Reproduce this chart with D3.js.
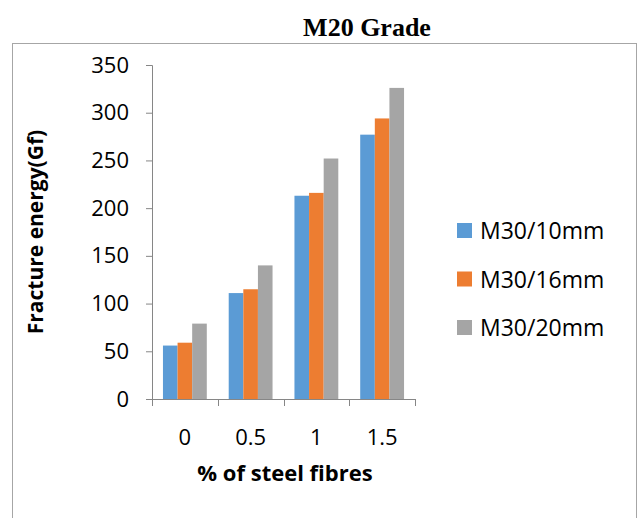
<!DOCTYPE html>
<html>
<head>
<meta charset="utf-8">
<script src="https://cdn.jsdelivr.net/npm/d3@7"></script>
<style>
  html, body { margin: 0; padding: 0; background: #fff; }
  svg { display: block; }
</style>
</head>
<body>
<svg id="chart" width="640" height="518"></svg>
<script>
// Fracture energy (Gf) by steel fibre content, three aggregate sizes
const categories = ["0", "0.5", "1", "1.5"];
const seriesNames = ["M30/10mm", "M30/16mm", "M30/20mm"];
const seriesColors = ["#5b9bd5", "#ed7d31", "#a5a5a5"];
const valuesM30_10 = [56, 111, 213, 277];
const valuesM30_16 = [59, 115, 216, 294];
const valuesM30_20 = [79, 140, 252, 326];
const yTicks = [0, 50, 100, 150, 200, 250, 300, 350];

const seriesValues = [valuesM30_10, valuesM30_16, valuesM30_20];

const svg = d3.select("#chart");

// outer chart frame (bottom edge runs past the page)
svg.append("rect")
  .attr("x", 12.5).attr("y", 43.5)
  .attr("width", 624).attr("height", 520)
  .attr("fill", "#fff")
  .attr("stroke", "#a6a6a6").attr("stroke-width", 1);

// title above the frame
svg.append("text")
  .attr("x", 367).attr("y", 36)
  .attr("text-anchor", "middle")
  .attr("font-family", "'Liberation Serif', 'Times New Roman', serif")
  .attr("font-weight", "bold")
  .attr("font-size", 26)
  .attr("fill", "#000")
  .text("M20 Grade");

const plot = { left: 152, right: 415, top: 65, bottom: 399 };

const x0 = d3.scaleBand()
  .domain(categories)
  .range([plot.left, plot.right])
  .paddingInner(0).paddingOuter(0);

// clustered bars: three bars per group, gap of 1.5 bar widths between groups
const barW = x0.bandwidth() / 4.5;
const groupOffset = barW * 0.75;

const y = d3.scaleLinear()
  .domain([0, 350])
  .range([plot.bottom, plot.top]);

const axisColor = "#868686";

// bars
const groups = svg.append("g").selectAll("g")
  .data(categories)
  .join("g")
  .attr("transform", d => `translate(${x0(d)},0)`);

groups.selectAll("rect")
  .data((d, i) => seriesValues.map((vals, s) => ({ s, v: vals[i] })))
  .join("rect")
  .attr("x", d => groupOffset + d.s * barW)
  .attr("y", d => y(d.v))
  .attr("width", barW)
  .attr("height", d => y(0) - y(d.v))
  .attr("fill", d => seriesColors[d.s]);

// y axis
const yAxis = svg.append("g")
  .attr("transform", `translate(${plot.left},0)`)
  .call(d3.axisLeft(y).tickValues(yTicks).tickSize(6).tickPadding(17).tickFormat(d3.format("d")));
yAxis.select(".domain").attr("stroke", axisColor).attr("d", `M-6,${plot.top + 0.5}H0.5V${plot.bottom}`);
yAxis.selectAll(".tick line").attr("stroke", axisColor);
yAxis.selectAll(".tick text")
  .attr("font-family", "'Open Sans', sans-serif")
  .attr("font-size", 22)
  .attr("fill", "#000");

// x axis with tick marks between categories
const xAxis = svg.append("g")
  .attr("transform", `translate(0,${plot.bottom})`);
xAxis.append("line")
  .attr("x1", plot.left).attr("x2", plot.right)
  .attr("y1", 0.5).attr("y2", 0.5)
  .attr("stroke", axisColor);
const boundaries = categories.map(c => x0(c)).concat([plot.right]);
xAxis.selectAll("line.tk")
  .data(boundaries)
  .join("line")
  .attr("class", "tk")
  .attr("x1", d => Math.round(d) + 0.5).attr("x2", d => Math.round(d) + 0.5)
  .attr("y1", 0).attr("y2", 7)
  .attr("stroke", axisColor);
xAxis.selectAll("text")
  .data(categories)
  .join("text")
  .attr("x", d => x0(d) + x0.bandwidth() / 2)
  .attr("y", 46)
  .attr("text-anchor", "middle")
  .attr("font-family", "'Open Sans', sans-serif")
  .attr("font-size", 22)
  .attr("fill", "#000")
  .text(d => d);

// axis titles
svg.append("text")
  .attr("x", 285).attr("y", 481)
  .attr("text-anchor", "middle")
  .attr("font-family", "'Open Sans', sans-serif")
  .attr("font-weight", "bold")
  .attr("font-size", 22)
  .attr("fill", "#000")
  .text("% of steel fibres");

svg.append("text")
  .attr("transform", "translate(43,232) rotate(-90)")
  .attr("text-anchor", "middle")
  .attr("font-family", "'Open Sans', sans-serif")
  .attr("font-weight", "bold")
  .attr("font-size", 21)
  .attr("fill", "#000")
  .text("Fracture energy(Gf)");

// legend
const legend = svg.append("g").attr("transform", "translate(457,231)");
const items = legend.selectAll("g")
  .data(seriesNames)
  .join("g")
  .attr("transform", (d, i) => `translate(0,${i * 48.5})`);
items.append("rect")
  .attr("x", 0).attr("y", -8)
  .attr("width", 15).attr("height", 15)
  .attr("fill", (d, i) => seriesColors[i]);
items.append("text")
  .attr("x", 23).attr("y", 8)
  .attr("font-family", "'Open Sans', sans-serif")
  .attr("font-size", 23)
  .attr("fill", "#000")
  .text(d => d);
</script>
</body>
</html>
